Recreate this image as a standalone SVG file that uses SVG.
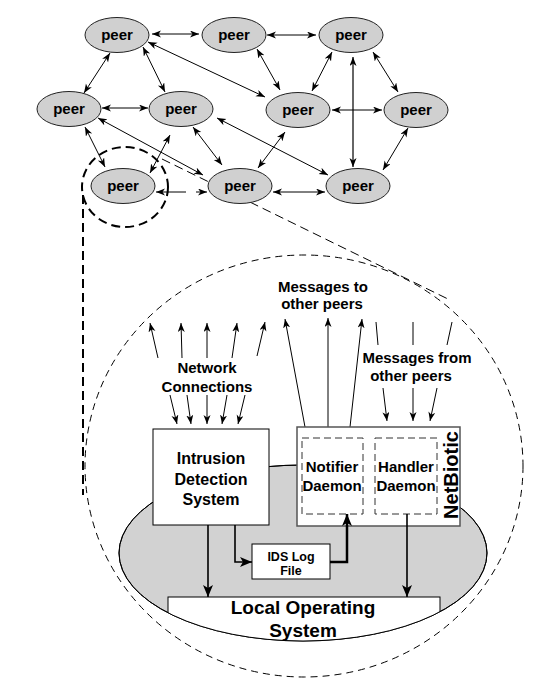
<svg xmlns="http://www.w3.org/2000/svg" width="543" height="690" viewBox="0 0 543 690">
<defs>
<style>
text{font-family:"Liberation Sans",Arial,sans-serif;font-weight:bold;fill:#000;text-anchor:middle}
.peer ellipse{fill:#d0d0d0;stroke:#222;stroke-width:1}
.peer text{font-size:15px}
.e{stroke:#000;stroke-width:1;fill:none;marker-start:url(#a);marker-end:url(#a)}
.u{stroke:#000;stroke-width:1;fill:none;marker-end:url(#a)}
.ln{stroke:#000;stroke-width:1;fill:none}
.thick{stroke:#000;stroke-width:1.6;fill:none;marker-end:url(#b)}
.box{fill:#fff;stroke:#000;stroke-width:1}
.dash{fill:none;stroke:#333;stroke-width:1;stroke-dasharray:7 4}
.lbl{font-size:15px}
</style>
<marker id="a" markerUnits="userSpaceOnUse" markerWidth="10" markerHeight="8" refX="9" refY="3.5" orient="auto-start-reverse">
<path d="M0,0 L9,3.5 L0,7 L2.5,3.5 z" fill="#000"/>
</marker>
<marker id="b" markerUnits="userSpaceOnUse" markerWidth="13" markerHeight="11" refX="12" refY="5" orient="auto">
<path d="M0,0 L12,5 L0,10 L3,5 z" fill="#000"/>
</marker>
<clipPath id="ell"><ellipse cx="303" cy="553" rx="184" ry="88"/></clipPath>
</defs>

<g id="zoom-outline">
<ellipse cx="304" cy="466" rx="219" ry="211" fill="none" stroke="#000" stroke-width="1" stroke-dasharray="7 5"/>
<line x1="83" y1="195" x2="83" y2="495" stroke="#000" stroke-width="2" stroke-dasharray="9 5"/>
<line x1="162" y1="159" x2="450" y2="300" stroke="#000" stroke-width="1" stroke-dasharray="9 5"/>
<ellipse cx="125" cy="187" rx="43" ry="40" fill="none" stroke="#000" stroke-width="2" stroke-dasharray="9 5"/>
</g>

<g id="connectors">
<line class="e" x1="152" y1="34" x2="199" y2="34"/>
<line class="e" x1="267" y1="35" x2="316" y2="35"/>
<line class="e" x1="110" y1="53" x2="84" y2="93"/>
<line class="e" x1="143" y1="47" x2="165" y2="92"/>
<line class="e" x1="148" y1="42" x2="265" y2="97"/>
<line class="e" x1="257" y1="49" x2="280" y2="90"/>
<line class="e" x1="332" y1="52" x2="312" y2="91"/>
<line class="e" x1="373" y1="52" x2="398" y2="92"/>
<line class="e" x1="353" y1="57" x2="353" y2="167" style="stroke:#666;stroke-width:2"/>
<line class="e" x1="102" y1="108" x2="148" y2="108"/>
<line class="e" x1="332" y1="110" x2="382" y2="110"/>
<line class="e" x1="85" y1="127" x2="105" y2="167"/>
<line class="e" x1="98" y1="118" x2="203" y2="175"/>
<line class="e" x1="170" y1="135" x2="150" y2="173"/>
<line class="e" x1="193" y1="127" x2="222" y2="165"/>
<line class="e" x1="217" y1="118" x2="328" y2="175"/>
<line class="e" x1="285" y1="132" x2="258" y2="168"/>
<line class="e" x1="408" y1="128" x2="383" y2="170"/>
<line class="e" x1="273" y1="192" x2="325" y2="192"/>
<line class="u" x1="186" y1="192" x2="156" y2="192"/>
<line class="u" x1="196" y1="192" x2="207" y2="192"/>

<line class="u" x1="158" y1="358" x2="150" y2="323"/>
<line class="u" x1="182" y1="358" x2="181" y2="323"/>
<line class="u" x1="207" y1="358" x2="207" y2="323"/>
<line class="u" x1="232" y1="358" x2="237" y2="323"/>
<line class="u" x1="257" y1="356" x2="265" y2="322"/>
<line class="u" x1="170" y1="395" x2="177" y2="424"/>
<line class="u" x1="187" y1="395" x2="191" y2="424"/>
<line class="u" x1="207" y1="395" x2="207" y2="424"/>
<line class="u" x1="227" y1="395" x2="222" y2="424"/>
<line class="u" x1="245" y1="395" x2="238" y2="424"/>

<line class="u" x1="305" y1="427" x2="285" y2="319"/>
<line class="u" x1="328" y1="427" x2="328" y2="318"/>
<line class="u" x1="350" y1="427" x2="362" y2="319"/>

<line class="ln" x1="376" y1="322" x2="378" y2="345"/>
<line class="ln" x1="413" y1="322" x2="413" y2="345"/>
<line class="ln" x1="452" y1="322" x2="447" y2="345"/>
<line class="u" x1="383" y1="388" x2="387" y2="421"/>
<line class="u" x1="413" y1="388" x2="413" y2="421"/>
<line class="u" x1="437" y1="388" x2="430" y2="421"/>
</g>

<g id="peers">
<g id="peer1" class="peer"><ellipse cx="117" cy="35" rx="32" ry="17.5"/><text x="117" y="40">peer</text></g>
<g id="peer2" class="peer"><ellipse cx="234" cy="35" rx="32" ry="17.5"/><text x="234" y="40">peer</text></g>
<g id="peer3" class="peer"><ellipse cx="351" cy="35" rx="32" ry="17.5"/><text x="351" y="40">peer</text></g>
<g id="peer4" class="peer"><ellipse cx="69" cy="109" rx="32" ry="17.5"/><text x="69" y="114">peer</text></g>
<g id="peer5" class="peer"><ellipse cx="181" cy="109" rx="32" ry="17.5"/><text x="181" y="114">peer</text></g>
<g id="peer6" class="peer"><ellipse cx="298" cy="110" rx="32" ry="17.5"/><text x="298" y="115">peer</text></g>
<g id="peer7" class="peer"><ellipse cx="416" cy="110" rx="32" ry="17.5"/><text x="416" y="115">peer</text></g>
<g id="peer8" class="peer"><ellipse cx="123" cy="186" rx="32" ry="17.5"/><text x="123" y="191">peer</text></g>
<g id="peer9" class="peer"><ellipse cx="240" cy="186" rx="32" ry="17.5"/><text x="240" y="191">peer</text></g>
<g id="peer10" class="peer"><ellipse cx="358" cy="186" rx="32" ry="17.5"/><text x="358" y="191">peer</text></g>
</g>

<g id="labels">
<text class="lbl" x="207" y="373">Network</text>
<text class="lbl" x="207" y="392">Connections</text>
<text class="lbl" x="323" y="292">Messages to</text>
<text class="lbl" x="322" y="309">other peers</text>
<text class="lbl" x="417" y="363">Messages from</text>
<text class="lbl" x="411" y="381">other peers</text>
</g>

<g id="host">
<ellipse cx="303" cy="553" rx="184" ry="88" fill="#d2d2d2" stroke="#000" stroke-width="1"/>
</g>

<g id="local-os">
<rect x="168" y="597" width="272" height="60" class="box" clip-path="url(#ell)"/>
<ellipse cx="303" cy="553" rx="184" ry="88" fill="none" stroke="#000" stroke-width="1"/>
<text x="303" y="614" style="font-size:19px">Local Operating</text>
<text x="303" y="637" style="font-size:19px">System</text>
</g>

<g id="ids">
<rect x="153" y="429" width="116" height="96" class="box"/>
<text x="211" y="464" style="font-size:16px">Intrusion</text>
<text x="211" y="485" style="font-size:16px">Detection</text>
<text x="211" y="505" style="font-size:16px">System</text>
</g>

<g id="netbiotic">
<rect x="297" y="427" width="163" height="99" fill="#fff" stroke="#555" stroke-width="1.5"/>
<text x="458" y="475" transform="rotate(-90 458 475)" style="font-size:20px">NetBiotic</text>
</g>
<g id="notifier">
<rect x="302" y="438" width="61" height="76" class="dash"/>
<text x="332" y="472" style="font-size:15px">Notifier</text>
<text x="332" y="491" style="font-size:15px">Daemon</text>
</g>
<g id="handler">
<rect x="375" y="438" width="62" height="76" class="dash"/>
<text x="406" y="472" style="font-size:15px">Handler</text>
<text x="406" y="491" style="font-size:15px">Daemon</text>
</g>

<g id="idslog">
<rect x="252" y="544" width="78" height="35" class="box"/>
<text x="291" y="561" style="font-size:12.5px">IDS Log</text>
<text x="291" y="575" style="font-size:12.5px">File</text>
</g>

<g id="flow">
<line class="thick" x1="208" y1="525" x2="208" y2="597"/>
<polyline class="thick" points="235,525 235,562 252,562"/>
<polyline class="thick" points="330,562 347,562 347,514" style="stroke-width:2.5"/>
<line class="thick" x1="407" y1="514" x2="407" y2="597"/>
</g>
</svg>
